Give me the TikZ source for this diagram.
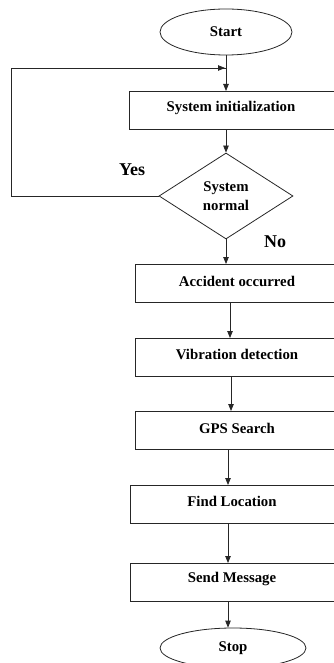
\documentclass[tikz,border=0pt]{standalone}
\usepackage{fontspec}
\setmainfont{Liberation Serif}
\usetikzlibrary{shapes.geometric,arrows.meta}
\begin{document}
\begin{tikzpicture}[x=1pt,y=-1pt,
  line/.style={draw=black!85,line width=0.8pt},
  arr/.style={line,-{Triangle[length=7pt,width=5.5pt]}},
  box/.style={line,rectangle,anchor=north west,inner sep=0pt,minimum height=38pt,minimum width=300pt},
  txt/.style={font=\fontsize{14.8}{16}\selectfont\bfseries,inner sep=0pt},
  oval/.style={line,ellipse,inner sep=0pt,font=\fontsize{14.8}{16}\selectfont\bfseries},
  dec/.style={line,diamond,inner sep=0pt,minimum width=134pt,minimum height=86pt,aspect=1.56,align=center,font=\fontsize{14.8}{19}\selectfont\bfseries},
  lab/.style={font=\fontsize{18}{20}\selectfont\bfseries,inner sep=0pt}]
\useasboundingbox (0,0) rectangle (334,663);
\clip (0,0) rectangle (334,663);
\node[oval,minimum width=132pt,minimum height=46pt] (start) at (226,32) {Start};
\node[box] (init) at (129,91) {};
\node[txt] (tinit) at (231,108) {System initialization};
\node[dec] (dia) at (226,196) {System\\normal};
\node[lab] (yes) at (132,170) {Yes};
\node[lab] (no) at (275,242) {No};
\node[box] (acc) at (135,264) {};
\node[txt] (tacc) at (237,281) {Accident occurred};
\node[box] (vib) at (135,338) {};
\node[txt] (tvib) at (237,354) {Vibration detection};
\node[box] (gps) at (135,411) {};
\node[txt] (tgps) at (237,428) {GPS Search};
\node[box] (fin) at (130,485) {};
\node[txt] (tfin) at (232,501) {Find Location};
\node[box] (snd) at (130,563) {};
\node[txt] (tsnd) at (232,579) {Send Message};
\node[oval,minimum width=146pt,minimum height=40pt] (stop) at (233,648) {Stop};
\coordinate (corner) at (11,68);
\coordinate (join) at (226,68);
\coordinate (c1) at (230,0);
\coordinate (c2) at (231,0);
\coordinate (c3) at (228,0);
\draw[arr] (start.south) -- (start.south |- init.north);
\draw[line] (dia.west) -| (corner) -- (join);
\draw[arr] (corner) -- ([xshift=-1pt]join);
\draw[arr] (dia.north |- init.south) -- (dia.north);
\draw[arr] (dia.south) -- (dia.south |- acc.north);
\draw[arr] (c1 |- acc.south) -- (c1 |- vib.north);
\draw[arr] (c2 |- vib.south) -- (c2 |- gps.north);
\draw[arr] (c3 |- gps.south) -- (c3 |- fin.north);
\draw[arr] (c3 |- fin.south) -- (c3 |- snd.north);
\draw[arr] (c3 |- snd.south) -- (stop.north -| c3);
\end{tikzpicture}
\end{document}
